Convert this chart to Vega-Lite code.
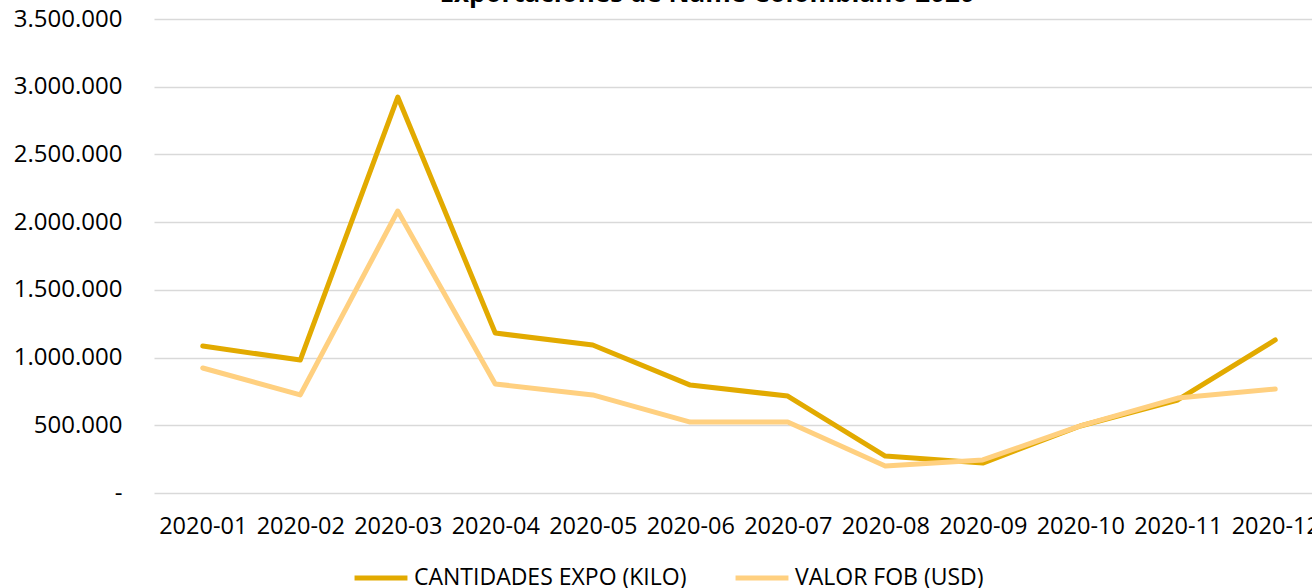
{
  "$schema": "https://vega.github.io/schema/vega-lite/v6.json",
  "autosize": "none",
  "width": 1170,
  "height": 474,
  "padding": {"left": 154, "top": 19, "right": 0, "bottom": 95},
  "background": "white",
  "config": {
    "locale": {"number": {"decimal": ",", "thousands": ".", "grouping": [3], "currency": ["$", ""]}},
    "view": {"stroke": null},
    "font": "Open Sans"
  },
  "title": {
    "text": "Exportaciones de Ñame Colombiano 2020",
    "font": "Open Sans",
    "fontSize": 26,
    "fontWeight": "bold",
    "color": "#000000",
    "anchor": "middle",
    "baseline": "alphabetic",
    "offset": 2,
    "dy": 23,
    "dx": -32
  },
  "data": {
    "values": [
      {"mes": "2020-01", "serie": "CANTIDADES EXPO (KILO)", "valor": 1085000},
      {"mes": "2020-02", "serie": "CANTIDADES EXPO (KILO)", "valor": 982000},
      {"mes": "2020-03", "serie": "CANTIDADES EXPO (KILO)", "valor": 2924000},
      {"mes": "2020-04", "serie": "CANTIDADES EXPO (KILO)", "valor": 1181000},
      {"mes": "2020-05", "serie": "CANTIDADES EXPO (KILO)", "valor": 1093000},
      {"mes": "2020-06", "serie": "CANTIDADES EXPO (KILO)", "valor": 797000},
      {"mes": "2020-07", "serie": "CANTIDADES EXPO (KILO)", "valor": 716000},
      {"mes": "2020-08", "serie": "CANTIDADES EXPO (KILO)", "valor": 273000},
      {"mes": "2020-09", "serie": "CANTIDADES EXPO (KILO)", "valor": 221000},
      {"mes": "2020-10", "serie": "CANTIDADES EXPO (KILO)", "valor": 495000},
      {"mes": "2020-11", "serie": "CANTIDADES EXPO (KILO)", "valor": 687000},
      {"mes": "2020-12", "serie": "CANTIDADES EXPO (KILO)", "valor": 1130000},
      {"mes": "2020-01", "serie": "VALOR FOB (USD)", "valor": 923000},
      {"mes": "2020-02", "serie": "VALOR FOB (USD)", "valor": 724000},
      {"mes": "2020-03", "serie": "VALOR FOB (USD)", "valor": 2082000},
      {"mes": "2020-04", "serie": "VALOR FOB (USD)", "valor": 805000},
      {"mes": "2020-05", "serie": "VALOR FOB (USD)", "valor": 724000},
      {"mes": "2020-06", "serie": "VALOR FOB (USD)", "valor": 524000},
      {"mes": "2020-07", "serie": "VALOR FOB (USD)", "valor": 524000},
      {"mes": "2020-08", "serie": "VALOR FOB (USD)", "valor": 199000},
      {"mes": "2020-09", "serie": "VALOR FOB (USD)", "valor": 244000},
      {"mes": "2020-10", "serie": "VALOR FOB (USD)", "valor": 495000},
      {"mes": "2020-11", "serie": "VALOR FOB (USD)", "valor": 701000},
      {"mes": "2020-12", "serie": "VALOR FOB (USD)", "valor": 768000}
    ]
  },
  "mark": {"type": "line", "strokeWidth": 5, "strokeCap": "round", "strokeJoin": "round"},
  "encoding": {
    "x": {
      "field": "mes",
      "type": "ordinal",
      "scale": {"type": "point", "padding": 0.5},
      "axis": {
        "title": null,
        "labelAngle": 0,
        "labelFontSize": 23.5,
        "labelColor": "#000000",
        "labelPadding": 21,
        "domain": false,
        "ticks": false,
        "grid": false
      }
    },
    "y": {
      "field": "valor",
      "type": "quantitative",
      "scale": {"domain": [0, 3500000], "nice": false},
      "axis": {
        "title": null,
        "values": [0, 500000, 1000000, 1500000, 2000000, 2500000, 3000000, 3500000],
        "labelExpr": "datum.value == 0 ? '-' : format(datum.value, ',.0f')",
        "labelFontSize": 24,
        "labelColor": "#000000",
        "labelPadding": 32,
        "domain": false,
        "ticks": false,
        "grid": true,
        "gridColor": "#D9D9D9",
        "gridWidth": 1.5
      }
    },
    "color": {
      "field": "serie",
      "type": "nominal",
      "scale": {"domain": ["CANTIDADES EXPO (KILO)", "VALOR FOB (USD)"], "range": ["#E2AA00", "#FFD080"]},
      "legend": {
        "title": null,
        "orient": "none",
        "legendX": 198,
        "legendY": 530,
        "direction": "horizontal",
        "symbolType": "stroke",
        "symbolSize": 2800,
        "symbolStrokeWidth": 5,
        "labelFontSize": 23,
        "labelLimit": 0,
        "labelColor": "#000000",
        "labelOffset": 4,
        "columnPadding": 38
      }
    }
  }
}
